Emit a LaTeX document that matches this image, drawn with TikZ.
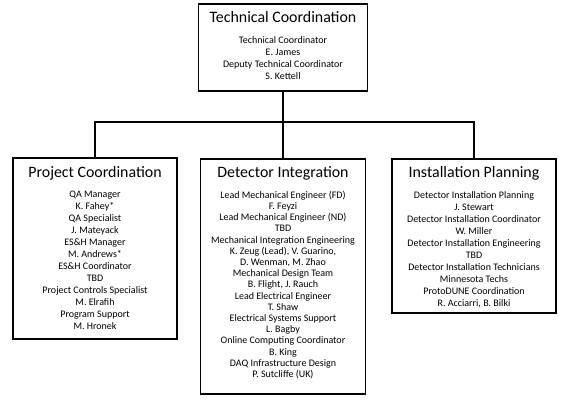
\documentclass[tikz,border=0pt]{standalone}
\usepackage{fontspec}
\setmainfont{Carlito}
\usetikzlibrary{positioning}

\newcommand{\topstrut}{\rule{0pt}{8pt}}

\tikzset{
  unitbox/.style={draw, line width=1.8pt, inner sep=0pt, anchor=north},
  unittitle/.style={anchor=base, inner sep=0pt, font=\fontsize{15.9}{18}\selectfont},
  unitbody/.style={anchor=north, inner sep=0pt, align=center, font=\fontsize{10}{12}\selectfont},
  link/.style={line width=1.8pt}
}

\begin{document}
\begin{tikzpicture}[x=1pt, y=1pt]
    \useasboundingbox (0,0) rectangle (565,-401);
    % Top box
    \node[unitbox, minimum width=169pt, minimum height=87pt] (tc) at (283,-3) {};
    \node[unittitle] (tctitle) at ([yshift=-20pt]tc.north) {Technical Coordination};
    \node[unitbody] (tcbody) at ([yshift=-32pt]tc.north) {\topstrut Technical Coordinator\\E. James\\Deputy Technical Coordinator\\S. Kettell};
    % Project coordination
    \node[unitbox, minimum width=164pt, minimum height=181pt] (pc) at (95,-157) {};
    \node[unittitle] (pctitle) at ([yshift=-20pt]pc.north) {Project Coordination};
    \node[unitbody] (pcbody) at ([yshift=-32pt]pc.north) {\topstrut QA Manager\\K. Fahey*\\QA Specialist\\J. Mateyack\\ES\&H Manager\\M. Andrews*\\ES\&H Coordinator\\TBD\\Project Controls Specialist\\M. Elrafih\\Program Support\\M. Hronek};
    % Detector integration
    \node[unitbox, minimum width=165pt, minimum height=235pt] (di) at (283,-158) {};
    \node[unittitle] (dititle) at ([yshift=-20pt]di.north) {Detector Integration};
    \node[unitbody, font=\fontsize{10}{11.2}\selectfont] (dibody) at ([yshift=-32pt]di.north) {\topstrut Lead Mechanical Engineer (FD)\\F. Feyzi\\Lead Mechanical Engineer (ND)\\TBD\\Mechanical Integration Engineering\\K. Zeug (Lead), V. Guarino,\\D. Wenman, M. Zhao\\Mechanical Design Team\\B. Flight, J. Rauch\\Lead Electrical Engineer\\T. Shaw\\Electrical Systems Support\\L. Bagby\\Online Computing Coordinator\\B. King\\DAQ Infrastructure Design\\P. Sutcliffe (UK)};
    % Installation planning
    \node[unitbox, minimum width=164pt, minimum height=154pt] (ip) at (474,-158) {};
    \node[unittitle] (iptitle) at ([yshift=-20pt]ip.north) {Installation Planning};
    \node[unitbody] (ipbody) at ([yshift=-32pt]ip.north) {\topstrut Detector Installation Planning\\J. Stewart\\Detector Installation Coordinator\\W. Miller\\Detector Installation Engineering\\TBD\\Detector Installation Technicians\\Minnesota Techs\\ProtoDUNE Coordination\\R. Acciarri, B. Bilki};
    % Connectors
    \coordinate (bus) at (283,-122);
    \draw[link] (tc.south) -- (tc.south |- bus);
    \draw[link] (pc.north) |- (ip.north |- bus) -- (ip.north);
    \draw[link] (di.north) -- (di.north |- bus);
\end{tikzpicture}
\end{document}
